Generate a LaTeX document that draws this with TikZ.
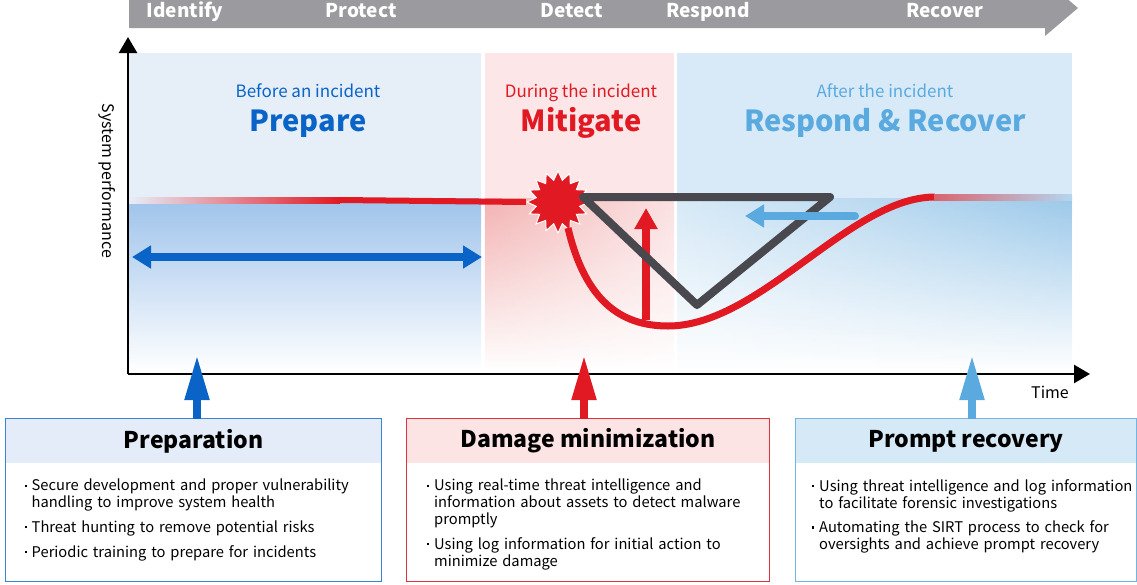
\documentclass[tikz,border=0pt]{standalone}
\usepackage{fontspec}
\setmainfont{Noto Sans CJK JP}
\usetikzlibrary{arrows.meta, positioning, shapes.geometric, fadings}
\definecolor{prepblue}{RGB}{10,100,200}
\definecolor{mitred}{RGB}{225,25,35}
\definecolor{recblue}{RGB}{90,170,224}
\definecolor{prepbg}{RGB}{230,238,248}
\definecolor{prepdeep}{RGB}{158,195,235}
\definecolor{mitbg}{RGB}{252,230,231}
\definecolor{mitdeep}{RGB}{243,178,178}
\definecolor{recbg}{RGB}{216,234,247}
\definecolor{recdeep}{RGB}{156,201,234}
\definecolor{bandgray}{RGB}{155,155,159}
\definecolor{tricol}{RGB}{72,72,78}
\definecolor{softred}{RGB}{217,100,110}
\definecolor{prephead}{RGB}{227,236,248}
\definecolor{prepline}{RGB}{60,130,210}
\definecolor{mithead}{RGB}{252,228,228}
\definecolor{mitline}{RGB}{224,50,60}
\definecolor{rechead}{RGB}{214,233,247}
\definecolor{recline}{RGB}{116,180,224}
\tikzfading[name=mitfade, left color=transparent!0, right color=transparent!90]
\tikzfading[name=recfade, left color=transparent!100, middle color=transparent!25, right color=transparent!0]
\newcommand{\bul}[2]{\noindent\makebox[7pt][l]{\raisebox{4pt}{\rule{2.2pt}{2.2pt}}}\parbox[t]{#1}{\raggedright #2}}
\newcommand{\nextitem}{\par\vspace{8pt}}

\begin{document}
\begin{tikzpicture}[
    x=1pt, y=-1pt,
    every node/.style={inner sep=0pt},
    phase/.style={font=\fontsize{19}{22}\selectfont\bfseries, text=white, anchor=base},
    stage/.style={font=\fontsize{17}{20}\selectfont, anchor=base},
    stagebig/.style={font=\fontsize{29}{34}\selectfont\bfseries, anchor=base},
    axis/.style={line width=2.5pt, -{Triangle[length=16pt,width=18pt]}},
    upper/.style={line width=8pt, -{Triangle[length=45pt,width=23pt]}},
    headbox/.style={rectangle, minimum height=44pt, font=\fontsize{23}{28}\selectfont\bfseries},
    bodybox/.style={rectangle, minimum height=118pt},
    boxline/.style={line width=1.2pt},
    items/.style={anchor=north west, text width=#1, align=left, font=\fontsize{14.7}{17}\selectfont}
]
\useasboundingbox (0,0) rectangle (1137,584);

% Phase band
\fill[bandgray] (129,-12) -- (1045,-12) -- (1045,-20) -- (1078,8) -- (1045,36) -- (1045,28) -- (129,28) -- cycle;
\node[phase] (identify) at (185,17) {Identify};
\node[phase] (protect) at (361,17) {Protect};
\node[phase] (detect) at (572,17) {Detect};
\node[phase] (respond) at (708,17) {Respond};
\node[phase] (recover) at (945,17) {Recover};

% Stage backgrounds
\fill[prepbg] (129,53) rectangle (481,198);
\shade[top color=prepdeep, bottom color=white] (129,198) rectangle (481,372);
\fill[mitbg] (485,53) rectangle (674,198);
\shade[top color=mitbg, bottom color=white] (485,198) rectangle (674,372);
\shade[top color=mitdeep, bottom color=white, path fading=mitfade] (485,198) rectangle (674,372);
\fill[recbg] (677,53) rectangle (1072,198);
\shade[top color=recbg, bottom color=white] (677,198) rectangle (1072,372);
\shade[top color=recdeep, bottom color=white, path fading=recfade] (677,198) rectangle (1072,372);

% Stage titles
\node[stage, text=prepblue] (before) at (308,97) {Before an incident};
\node[stagebig, text=prepblue] (prepare) at (308,131) {Prepare};
\node[stage, text=mitred] (during) at (581,97) {During the incident};
\node[stagebig, text=mitred] (mitigate) at (581,131) {Mitigate};
\node[stage, text=recblue] (after) at (885,97) {After the incident};
\node[stagebig, text=recblue] (recov) at (885,131) {Respond \& Recover};

% Axes
\coordinate (origin) at (128,374);
\coordinate (ytop) at (128,37);
\coordinate (xend) at (1090,374);
\draw[axis] (origin) -- (ytop);
\draw[axis] (origin) -- (xend);
\node[font=\fontsize{16}{18}\selectfont, rotate=-90] (perf) at (107,181) {System performance};
\node[font=\fontsize{16}{18}\selectfont, anchor=base] (time) at (1050,398) {Time};

% Performance curve
\node[star, star points=16, star point ratio=1.4, minimum size=62pt, fill=mitred, draw=white, line width=1pt] (burst) at (558,202) {};
\shade[left color=prepbg, right color=mitred] (129,197) rectangle (340,203);
\draw[mitred, line width=6pt] (340,200) -- (burst.west);
\draw[mitred, line width=7pt] (568,228) .. controls (585,300) and (620,326) .. (668,326);
\draw[mitred, line width=7pt] (668,326) .. controls (760,326) and (850,197) .. (935,197);
\shade[left color=softred, right color=recdeep!60!recbg] (934,194) rectangle (1072,200);

% Response arrows
\coordinate (mitbase) at (646,320);
\coordinate (mittip) at (646,208);
\draw[mitred, line width=8pt, -{Triangle[length=21pt,width=22pt]}] (mitbase) -- (mittip);
\draw[tricol, line width=8pt, line join=round, line cap=round] (583,197) -- (830,197) -- (697,305) -- cycle;
\coordinate (recstart) at (855,216);
\coordinate (recend) at (745,216);
\draw[recblue, line width=8pt, line cap=round, -{Triangle[length=19pt,width=22pt]}] (recstart) -- (recend);
\coordinate (prepleft) at (132,257);
\coordinate (prepright) at (482,257);
\draw[prepblue, line width=8pt, {Triangle[length=19pt,width=22pt]}-{Triangle[length=19pt,width=22pt]}] (prepleft) -- (prepright);

% Boxes
\node[headbox, fill=prephead, minimum width=375pt] (prephd) at (193.5,441) {Preparation};
\node[bodybox, fill=white, minimum width=375pt, below=0pt of prephd] (prepbody) {};
\draw[prepline, boxline] (prephd.north west) rectangle (prepbody.south east);
\node[items=352pt] (preptext) at (24.5,479) {\bul{340pt}{Secure development and proper vulnerability\\handling to improve system health}\nextitem
\bul{340pt}{Threat hunting to remove potential risks}\nextitem
\bul{340pt}{Periodic training to prepare for incidents}};

\node[headbox, fill=mithead, minimum width=362pt] (mithd) at (588,441) {Damage minimization};
\node[bodybox, fill=white, minimum width=362pt, below=0pt of mithd] (mitbody) {};
\draw[mitline, boxline] (mithd.north west) rectangle (mitbody.south east);
\node[items=335pt] (mittext) at (427,479) {\bul{325pt}{Using real-time threat intelligence and\\information about assets to detect malware\\promptly}\nextitem
\bul{325pt}{Using log information for initial action to\\minimize damage}};

\node[headbox, fill=rechead, minimum width=340pt] (rechd) at (966,441) {Prompt recovery};
\node[bodybox, fill=white, minimum width=340pt, below=0pt of rechd] (recbody) {};
\draw[recline, boxline] (rechd.north west) rectangle (recbody.south east);
\node[items=340pt] (rectext) at (812,479) {\bul{332pt}{Using threat intelligence and log information\\to facilitate forensic investigations}\nextitem
\bul{332pt}{Automating the SIRT process to check for\\oversights and achieve prompt recovery}};

% Links to boxes
\coordinate (preptip) at (197,355);
\coordinate (mittip2) at (584,355);
\coordinate (rectip) at (972,355);
\draw[upper, prepblue] (preptip |- prephd.north) -- (preptip);
\draw[upper, mitred] (mittip2 |- mithd.north) -- (mittip2);
\draw[upper, recblue] (rectip |- rechd.north) -- (rectip);

\end{tikzpicture}
\end{document}
